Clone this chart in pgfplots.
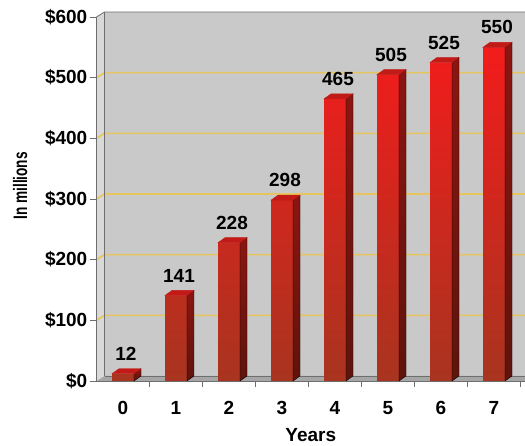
\documentclass[border=0pt]{standalone}
\usepackage{pgfplots}
\pgfplotsset{compat=1.18}
\usepackage{graphicx}
\usepackage{fontspec}
\setmainfont{Liberation Sans}

\definecolor{wallgray}{HTML}{C9C9C9}
\definecolor{sidegray}{HTML}{D9D9D9}
\definecolor{floorgray}{HTML}{A6A6A6}
\definecolor{framegray}{HTML}{6E6E6E}
\definecolor{gridgold}{HTML}{E8C55C}
\definecolor{redtop}{HTML}{F21C1C}
\definecolor{redbot}{HTML}{A8341F}
\definecolor{sidetop}{HTML}{8C1510}
\definecolor{sidebot}{HTML}{5E140C}
\definecolor{capred}{HTML}{C21A16}

\pgfdeclareplotmark{blank}{}
\newcommand{\yu}{0.6067}

\pgfplotstableread{
x y
0 12
1 141
2 228
3 298
4 465
5 505
6 525
7 550
}\revenue

\begin{document}
\begin{tikzpicture}[font=\bfseries\fontsize{19}{21}\selectfont]
\begin{axis}[
  set layers,
  at={(96.5pt,65pt)}, anchor=south west,
  x=53pt, y=\yu pt,
  xmin=-0.5, xmax=7.585, ymin=0, ymax=600,
  clip=false,
  axis x line*=bottom, axis y line*=left,
  axis line style={framegray, line width=0.8pt, -},
  xtick={0,...,7},
  xtick style={draw=none},
  ytick={0,100,...,600},
  yticklabels={\$0,\$100,\$200,\$300,\$400,\$500,\$600},
  ytick style={framegray, line width=0.8pt},
  tick align=outside,
  major tick length=7pt,
  yticklabel style={anchor=east, inner sep=0pt, xshift=-2pt},
  xticklabel style={inner sep=0pt, yshift=-13pt},
  /pgf/number format/assume math mode=true,
  xlabel={Years},
  ylabel={\scalebox{0.7}[1]{In millions}},
  every axis x label/.style={at={(axis description cs:0.5,0)}, yshift=-54pt, anchor=center},
  every axis y label/.style={at={(axis description cs:-0.178,0.536)}, rotate=90, anchor=center, font=\bfseries\fontsize{19.5}{21}\selectfont},
]
\begin{pgfonlayer}{axis background}
  % back wall, left wall, floor
  \fill[wallgray] ([xshift=8pt,yshift=5pt]axis cs:-0.5,0) rectangle ([xshift=8pt,yshift=5pt]axis cs:7.585,600);
  \fill[sidegray] (axis cs:-0.5,0) -- ++(8pt,5pt) -- ([xshift=8pt,yshift=5pt]axis cs:-0.5,600) -- (axis cs:-0.5,600) -- cycle;
  \fill[floorgray] (axis cs:-0.5,0) -- ++(8pt,5pt) -- ([xshift=8pt,yshift=5pt]axis cs:7.585,0) -- (axis cs:7.585,0) -- cycle;
  \pgfplotsinvokeforeach{100,200,300,400,500}{
    \draw[gridgold, line width=1.6pt] (axis cs:-0.5,#1) -- ++(8pt,5pt) -- ([xshift=8pt,yshift=5pt]axis cs:7.585,#1);
  }
  \draw[framegray, line width=0.8pt] (axis cs:-0.5,600) -- ++(8pt,5pt) -- ([xshift=8pt,yshift=5pt]axis cs:7.585,600);
  \draw[framegray, line width=0.6pt] ([xshift=8pt,yshift=5pt]axis cs:-0.5,0) -- ([xshift=8pt,yshift=5pt]axis cs:-0.5,600);
  \draw[framegray, line width=0.6pt] ([xshift=8pt,yshift=5pt]axis cs:-0.5,0) -- ([xshift=8pt,yshift=5pt]axis cs:7.585,0);
\end{pgfonlayer}

% front faces
\addplot[ybar, bar width=22pt, draw=none, top color=redtop, bottom color=redbot] table {\revenue};

% side and top faces
\addplot[scatter, only marks, mark=blank,
  visualization depends on={rawy \as \ry},
  scatter/@pre marker code/.code={%
    \shade[top color=sidetop, bottom color=sidebot] (11pt,0pt) -- (18pt,5pt) -- (18pt,{5pt-\ry*\yu pt}) -- (11pt,{-\ry*\yu pt}) -- cycle;
    \fill[capred] (-11pt,0pt) -- (-4pt,5pt) -- (18pt,5pt) -- (11pt,0pt) -- cycle;
  },
  scatter/@post marker code/.code={}] table {\revenue};

% value labels
\addplot[only marks, mark=blank, nodes near coords,
  nodes near coords style={anchor=south, inner sep=0pt, yshift=13pt, xshift=3pt, text=black}] table {\revenue};

\pgfplotsinvokeforeach{0.5,1.5,...,7.5}{
  \draw[framegray, line width=0.8pt] (axis cs:#1,0) -- ++(0pt,-6pt);
}
\end{axis}
\pgfresetboundingbox
\path (0,0) rectangle (525pt,446pt);
\end{tikzpicture}
\end{document}
